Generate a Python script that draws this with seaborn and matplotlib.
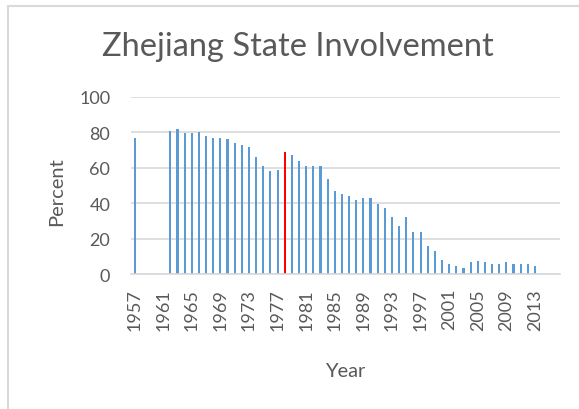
import pandas as pd
import matplotlib
matplotlib.use('Agg')
import matplotlib.pyplot as plt
from matplotlib.lines import Line2D
import seaborn as sns

# categories shown on the axis (Excel category axis runs past the data)
axis_years = list(range(1957, 2017))

# data years and state involvement percent (None = no value)
years = list(range(1957, 2014))
percent = [77, None, None, None, None, 81, 82, 79.5, 79.5, 80,
           78, 77, 77, 76, 74, 73, 72, 66, 61, 58,
           59, 69, 67, 64, 61, 61, 61, 53.5, 47, 45,
           44, 42, 43, 43, 39.5, 37.5, 32, 27, 32, 23.5,
           23.5, 16, 13, 8, 5.5, 4.5, 3.5, 6.5, 7.5, 6.5,
           5.5, 5.5, 6.5, 5.5, 5.5, 5.5, 4.5]
highlight_year = 1978

tick_years = axis_years[::4][:15]

df = pd.DataFrame({'Year': [str(y) for y in years], 'Percent': percent})
df = df.dropna()

bar_colors = {y: ('#FF0000' if y == str(highlight_year) else '#5B9BD5') for y in df['Year']}

sns.set_theme(style='white')
plt.rcParams['font.family'] = ['Lato', 'DejaVu Sans']
text_color = '#595959'
grid_color = '#D9D9D9'

fig = plt.figure(figsize=(5.79, 4.10), dpi=100)
ax = fig.add_axes([131 / 579, 1 - 275 / 410, (560 - 131) / 579, (275 - 98) / 410])

sns.barplot(data=df, x='Year', y='Percent', hue='Year',
            order=[str(y) for y in axis_years],
            palette=bar_colors, dodge=False, width=0.3,
            legend=False, ax=ax, saturation=1, linewidth=0)

ax.set_xlim(-0.5, len(axis_years) - 0.5)
ax.set_ylim(0, 100)
ax.set_yticks([0, 20, 40, 60, 80, 100])
ax.set_xticks([axis_years.index(y) for y in tick_years])
ax.set_xticklabels([str(y) for y in tick_years], rotation=90)
ax.tick_params(axis='both', length=0, colors=text_color, labelsize=13)
ax.tick_params(axis='y', pad=15)
ax.tick_params(axis='x', pad=10)

ax.set_axisbelow(True)
ax.yaxis.grid(True, color=grid_color, linewidth=1.2)
for side in ['top', 'right', 'left']:
    ax.spines[side].set_visible(False)
ax.spines['bottom'].set_color(grid_color)
ax.spines['bottom'].set_linewidth(1.2)
ax.set_xlabel('')
ax.set_ylabel('')

fig.text(298 / 579, 1 - 47 / 410, 'Zhejiang State Involvement', ha='center', va='center',
         fontsize=23.5, color=text_color)
fig.text(57 / 579, 1 - 192 / 410, 'Percent', ha='center', va='center', rotation=90,
         fontsize=14.5, color=text_color)
fig.text(345 / 579, 1 - 372 / 410, 'Year', ha='center', va='center',
         fontsize=14.5, color=text_color)

# chart frame (left and top edges visible)
fig.add_artist(Line2D([8 / 579, 8 / 579], [0, 1 - 7 / 410], color=grid_color, linewidth=1.5))
fig.add_artist(Line2D([8 / 579, 1], [1 - 7 / 410, 1 - 7 / 410], color=grid_color, linewidth=1.5))

fig.savefig('out.png', dpi=100)
